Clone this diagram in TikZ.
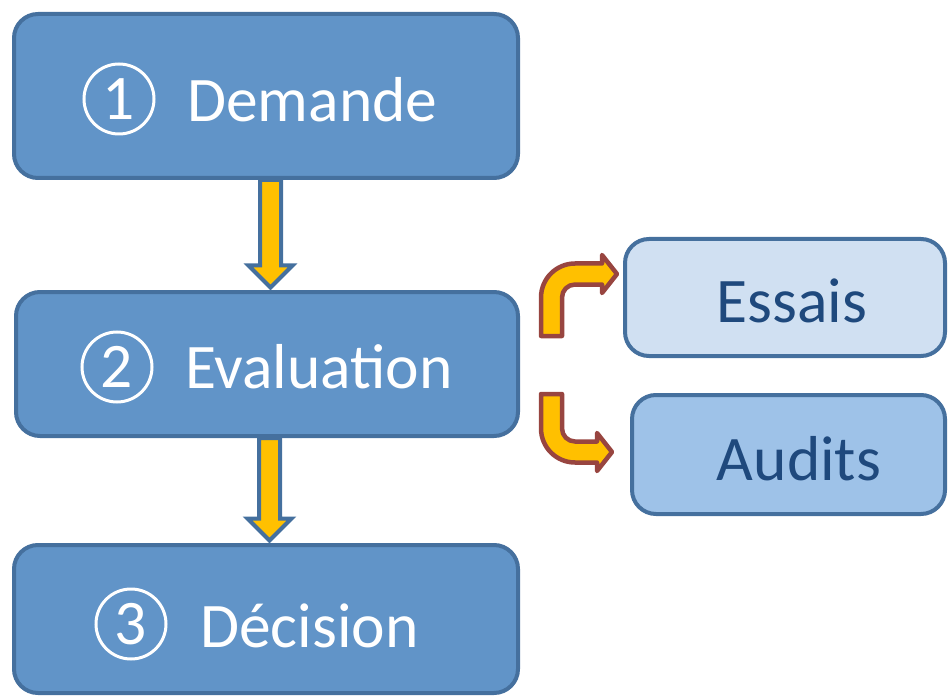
\documentclass[tikz,border=0pt]{standalone}
\usepackage{fontspec}
\setmainfont{Carlito}
\usetikzlibrary{calc}
\definecolor{boxblue}{HTML}{6194C8}
\definecolor{edgeblue}{HTML}{45709E}
\definecolor{lightblue}{HTML}{D0E0F2}
\definecolor{midblue}{HTML}{9EC2E8}
\definecolor{darkblue}{HTML}{1F497D}
\definecolor{arrowyellow}{HTML}{FFC000}
\definecolor{arrowred}{HTML}{984540}
\newcommand{\bigfont}{\fontsize{63.5}{72}\selectfont}
\tikzset{
  mainbox/.style={draw=edgeblue,fill=boxblue,line width=4pt,rounded corners=24pt,inner sep=0pt},
  sidebox/.style={draw=edgeblue,line width=4pt,rounded corners=24pt,inner sep=0pt},
  numring/.style={circle,draw=white,line width=3pt,minimum size=70pt,inner sep=0pt,text=white,font=\bigfont},
  word/.style={anchor=base west,inner sep=0pt,text=white,font=\bigfont},
  sideword/.style={anchor=base,inner sep=0pt,text=darkblue,font=\bigfont},
  downarr/.style={draw=edgeblue,fill=arrowyellow,line width=4pt,line join=miter},
  bentarr/.style={draw=arrowred,fill=arrowyellow,line width=4.5pt,line join=round}
}

\begin{document}
\begin{tikzpicture}[x=1pt,y=1pt]
  \useasboundingbox (0,0) rectangle (949,697);

  \node[mainbox,minimum width=504pt,minimum height=164pt] (dem) at (266,601) {}; % Demande box
  \node[mainbox,minimum width=502pt,minimum height=144pt] (eva) at (267,333) {}; % Evaluation box
  \node[mainbox,minimum width=504pt,minimum height=148pt] (dec) at (266,78) {};  % Decision box
  \node[sidebox,fill=lightblue,minimum width=320pt,minimum height=117pt] (ess) at (785,399.5) {}; % Essais
  \node[sidebox,fill=midblue,minimum width=313pt,minimum height=119pt] (aud) at (788.5,242.5) {}; % Audits

  \node[numring] (n1) at (119,598) {1};
  \node[word] (w1) at (187,575) {Demande};
  \node[numring] (n2) at (117,330) {2};
  \node[word] (w2) at (185,309) {Evaluation};
  \node[numring] (n3) at (131,73) {3};
  \node[word] (w3) at (200,50) {Décision};
  \node[sideword] (w4) at (792,375) {Essais};
  \node[sideword] (w5) at (799,217) {Audits};

  \coordinate (tip1) at ($(eva.north)+(3.5,2.5)$);
  \coordinate (tip2) at ($(dec.north)+(3.5,2.5)$);
  \coordinate (tip3) at ($(ess.west)+(-6,23.5)$);
  \coordinate (tip4) at ($(aud.west)+(-18,2.5)$);

  % Demande -> Evaluation
  \draw[downarr] let \p1=(tip1), \p2=(dem.south) in
    (\x1-10.5,\y2) -- (\x1-10.5,\y1+22) -- (\x1-22,\y1+22) -- (\x1,\y1)
    -- (\x1+22,\y1+22) -- (\x1+10.5,\y1+22) -- (\x1+10.5,\y2) -- cycle;
  % Evaluation -> Decision
  \draw[downarr] let \p1=(tip2), \p2=(eva.south) in
    (\x1-10.5,\y2) -- (\x1-10.5,\y1+22) -- (\x1-22,\y1+22) -- (\x1,\y1)
    -- (\x1+22,\y1+22) -- (\x1+10.5,\y1+22) -- (\x1+10.5,\y2) -- cycle;

  % Evaluation -> Essais (bent up)
  \draw[bentarr] let \p1=(tip3), \p2=(eva.east) in
    (\x2+21,\y2+28) -- (\x2+21,\y1-23.5) arc(180:90:34) -- (\x1-15,\y1+10.5)
    -- (\x1-15,\y1+19) -- (\x1,\y1) -- (\x1-15,\y1-19) -- (\x1-15,\y1-10.5)
    -- (\x2+55,\y1-10.5) arc(90:180:13) -- (\x2+42,\y2+28) -- cycle;
  % Evaluation -> Audits (bent down)
  \draw[bentarr] let \p1=(tip4), \p2=(eva.east) in
    (\x2+21,\y2-30) -- (\x2+21,\y1+23.5) arc(180:270:34) -- (\x1-15,\y1-10.5)
    -- (\x1-15,\y1-19) -- (\x1,\y1) -- (\x1-15,\y1+19) -- (\x1-15,\y1+10.5)
    -- (\x2+55,\y1+10.5) arc(270:180:13) -- (\x2+42,\y2-30) -- cycle;
\end{tikzpicture}
\end{document}
